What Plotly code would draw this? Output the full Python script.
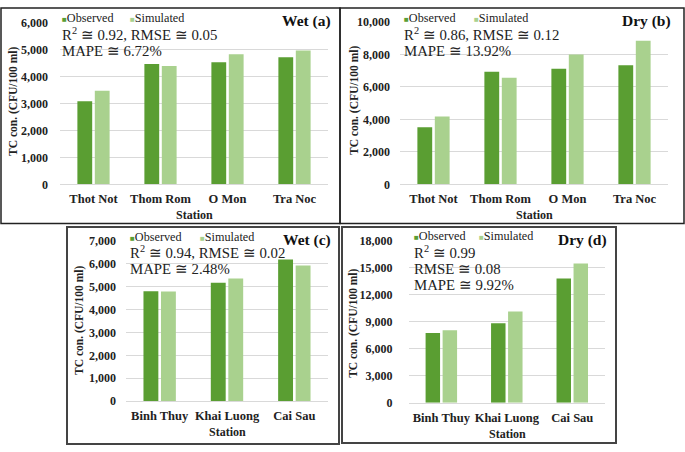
import plotly.graph_objects as go

# ---------------- data ----------------
stations_top = ["Thot Not", "Thom Rom", "O Mon", "Tra Noc"]
wet_top_obs = [3080, 4460, 4520, 4710]
wet_top_sim = [3470, 4380, 4820, 4960]
dry_top_obs = [3520, 6930, 7120, 7340]
dry_top_sim = [4180, 6570, 8000, 8840]

stations_bot = ["Binh Thuy", "Khai Luong", "Cai Sau"]
wet_bot_obs = [4800, 5170, 6190]
wet_bot_sim = [4790, 5360, 5930]
dry_bot_obs = [7770, 8850, 13840]
dry_bot_sim = [8050, 10140, 15490]

series_names = ["Observed", "Simulated"]
panel_tags = ["Wet (a)", "Dry (b)", "Wet (c)", "Dry (d)"]
stats_text = [
    ["R<sup>2</sup> ≅ 0.92, RMSE ≅ 0.05", "MAPE ≅ 6.72%"],
    ["R<sup>2</sup> ≅ 0.86, RMSE ≅ 0.12", "MAPE ≅ 13.92%"],
    ["R<sup>2</sup> ≅ 0.94, RMSE ≅ 0.02", "MAPE ≅ 2.48%"],
    ["R<sup>2</sup> ≅ 0.99", "RMSE ≅ 0.08", "MAPE ≅ 9.92%"],
]
y_ranges = [(0, 6000, 1000), (0, 10000, 2000), (0, 7000, 1000), (0, 18000, 3000)]
y_title = "TC con. (CFU/100 ml)"
x_title = "Station"

# ---------------- layout helpers ----------------
W, H = 685, 452
def fx(x):
    return x / W
def fy(y):
    return 1 - y / H

C_OBS = "#5A9E32"
C_SIM = "#A9D18E"
FONT = "Liberation Serif"
GRID = "#D9D9D9"

# plot areas in pixels: (left, right, top, bottom)
areas = [
    (60, 328, 15.8, 183),
    (400, 668, 15.5, 183),
    (126, 328, 241.4, 406.7),
    (408.6, 605, 241.5, 408.3),
]
tick_standoff = [11, 9, 9, 15]

panels = [
    (stations_top, wet_top_obs, wet_top_sim),
    (stations_top, dry_top_obs, dry_top_sim),
    (stations_bot, wet_bot_obs, wet_bot_sim),
    (stations_bot, dry_bot_obs, dry_bot_sim),
]

fig = go.Figure()
layout = dict(
    width=W, height=H,
    margin=dict(l=0, r=0, t=0, b=0),
    paper_bgcolor="white", plot_bgcolor="white",
    showlegend=False,
    barmode="group", bargap=0.48, bargroupgap=0.15,
    font=dict(family=FONT, color="#222"),
)

for i, (cats, obs, sim) in enumerate(panels):
    n = "" if i == 0 else str(i + 1)
    xa, ya = "x" + n, "y" + n
    fig.add_trace(go.Bar(x=cats, y=obs, name=series_names[0], marker=dict(color=C_OBS, line=dict(width=0)),
                         xaxis=xa, yaxis=ya, offsetgroup="o"))
    fig.add_trace(go.Bar(x=cats, y=sim, name=series_names[1], marker=dict(color=C_SIM, line=dict(width=0)),
                         xaxis=xa, yaxis=ya, offsetgroup="s"))
    l, r, t, b = areas[i]
    y0, y1, dt = y_ranges[i]
    layout["xaxis" + n] = dict(
        domain=[fx(l), fx(r)], anchor=ya, showgrid=False, showline=True, linecolor=GRID, linewidth=1,
        ticks="", tickfont=dict(family=FONT, size=12.5, color="#222", weight="bold"),
        ticklabelstandoff=3, fixedrange=True,
    )
    layout["yaxis" + n] = dict(
        domain=[fy(b), fy(t)], anchor=xa, range=[y0, y1], dtick=dt, tick0=0,
        showgrid=True, gridcolor=GRID, gridwidth=1, zeroline=False, showline=False,
        tickformat=",d", ticks="", tickfont=dict(family=FONT, size=12, color="#222", weight="bold"),
        ticklabelstandoff=tick_standoff[i], fixedrange=True,
    )

ann = []
# panel-specific text positions (pixels)
leg_pos = [(60, 128, 11), (402, 472, 11), (128, 198, 237), (412, 477, 236)]
tag_pos = [(333, 14), (673, 14), (333, 240), (609, 240)]
stat_pos = [(60, [27.5, 45]), (402, [27.5, 45]), (128, [252.5, 270]), (412, [252.5, 270, 287])]
ytitle_pos = [(14, 98), (355, 97), (80, 324), (354, 327)]
xtitle_pos = [(194, 215), (534, 215), (227, 439), (507, 441)]

for i in range(4):
    x1, x2, yl = leg_pos[i]
    for xx, col, name in [(x1, C_OBS, series_names[0]), (x2, C_SIM, series_names[1])]:
        ann.append(dict(x=fx(xx), y=fy(yl), xref="paper", yref="paper", xanchor="left", yanchor="middle",
                        showarrow=False,
                        text=f"<span style='color:{col};font-size:8px'>■</span>{name}",
                        font=dict(family=FONT, size=12.2, color="#222")))
    tx, ty = tag_pos[i]
    ann.append(dict(x=fx(tx), y=fy(ty), xref="paper", yref="paper", xanchor="right", yanchor="middle",
                    showarrow=False, text=panel_tags[i],
                    font=dict(family=FONT, size=15.5, color="#111", weight="bold")))
    sx, sys_ = stat_pos[i]
    for txt, yy in zip(stats_text[i], sys_):
        ann.append(dict(x=fx(sx), y=fy(yy), xref="paper", yref="paper", xanchor="left", yanchor="middle",
                        showarrow=False, text=txt, font=dict(family=FONT, size=14.8, color="#222")))
    yx, yy = ytitle_pos[i]
    ann.append(dict(x=fx(yx), y=fy(yy), xref="paper", yref="paper", xanchor="center", yanchor="middle",
                    showarrow=False, text=y_title, textangle=-90,
                    font=dict(family=FONT, size=11.5, color="#222", weight="bold")))
    xx, xy = xtitle_pos[i]
    ann.append(dict(x=fx(xx), y=fy(xy), xref="paper", yref="paper", xanchor="center", yanchor="middle",
                    showarrow=False, text=x_title,
                    font=dict(family=FONT, size=12, color="#222", weight="bold")))

layout["annotations"] = ann

# frame lines (pixels)
frame_rects = [
    ((1, 1, 340, 223.5), "#222", 1.5),
    ((340, 1, 684, 223.5), "#222", 1.5),
    ((67, 227, 339, 451), "#444", 2),
    ((342, 227, 616, 450), "#444", 2),
]
shapes = []
for (x0, y0, x1, y1), col, w in frame_rects:
    shapes.append(dict(type="rect", xref="paper", yref="paper", x0=fx(x0), x1=fx(x1), y0=fy(y1), y1=fy(y0),
                       line=dict(color=col, width=w), fillcolor="rgba(0,0,0,0)", layer="above"))
layout["shapes"] = shapes

fig.update_layout(**layout)
fig.write_html("out.html", config={"displayModeBar": False},
               post_script="document.body.style.margin='0';document.body.style.overflow='hidden';")
